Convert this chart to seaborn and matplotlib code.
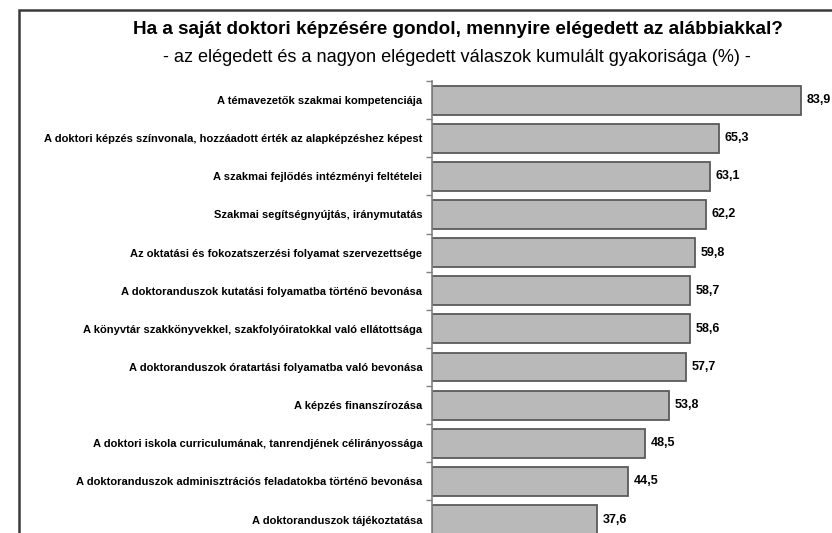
import matplotlib
matplotlib.use("Agg")
import matplotlib.pyplot as plt
import matplotlib.patches as mpatches
import seaborn as sns
import numpy as np
import pandas as pd

categories = [
    "A témavezetők szakmai kompetenciája",
    "A doktori képzés színvonala, hozzáadott érték az alapképzéshez képest",
    "A szakmai fejlődés intézményi feltételei",
    "Szakmai segítségnyújtás, iránymutatás",
    "Az oktatási és fokozatszerzési folyamat szervezettsége",
    "A doktoranduszok kutatási folyamatba történő bevonása",
    "A könyvtár szakkönyvekkel, szakfolyóiratokkal való ellátottsága",
    "A doktoranduszok óratartási folyamatba való bevonása",
    "A képzés finanszírozása",
    "A doktori iskola curriculumának, tanrendjének célirányossága",
    "A doktoranduszok adminisztrációs feladatokba történő bevonása",
    "A doktoranduszok tájékoztatása",
]
values = [83.9, 65.3, 63.1, 62.2, 59.8, 58.7, 58.6, 57.7, 53.8, 48.5, 44.5, 37.6]

title = "Ha a saját doktori képzésére gondol, mennyire elégedett az alábbiakkal?"
subtitle = "- az elégedett és a nagyon elégedett válaszok kumulált gyakorisága (%) -"

sns.set_theme(style="white")
plt.rcParams["font.family"] = ["Liberation Sans", "DejaVu Sans"]
plt.rcParams["text.color"] = "black"

df = pd.DataFrame({"kategoria": categories, "ertek": values})

fig = plt.figure(figsize=(8.32, 5.33), dpi=100)
ax = fig.add_axes([432 / 832, -0.0105, 439.8 / 832, 0.8585])

sns.barplot(data=df, x="ertek", y="kategoria", orient="h", color="#b9b9b9",
            edgecolor="#5a5a5a", linewidth=1.3, width=0.76, saturation=1, ax=ax)

ax.set_xlim(0, 100)
ax.set_ylim(11.5, -0.5)
ax.set_xlabel("")
ax.set_ylabel("")
ax.set_xticks([])
for s in ["top", "right", "bottom"]:
    ax.spines[s].set_visible(False)
ax.spines["left"].set_color("#808080")
ax.spines["left"].set_linewidth(1.2)

# kis osztásjelek a kategóriák között
ax.set_yticks(np.arange(len(categories)) - 0.5, minor=True)
ax.tick_params(axis="y", which="major", length=0, pad=7)
ax.tick_params(axis="y", which="minor", length=4, width=1, color="#808080", left=True)
for lab in ax.get_yticklabels():
    lab.set_fontsize(8.0)
    lab.set_fontweight("bold")
    lab.set_color("black")

ax.bar_label(ax.containers[0], labels=[f"{v:.1f}".replace(".", ",") for v in values],
             padding=4, fontsize=9, fontweight="bold", color="black")

fig.text(458 / 832, 1 - 30 / 533, title, ha="center", va="center",
         fontsize=13.6, fontweight="bold")
fig.text(457 / 832, 1 - 58 / 533, subtitle, ha="center", va="center",
         fontsize=13.1)

# keret a bal és felső oldalon
frame = mpatches.Rectangle((18.5 / 832, -0.2), 1.2, 1.2 - 10 / 533, transform=fig.transFigure,
                           fill=False, edgecolor="#3a3a3a", linewidth=1.8)
fig.add_artist(frame)

fig.savefig("out.png", dpi=100)
